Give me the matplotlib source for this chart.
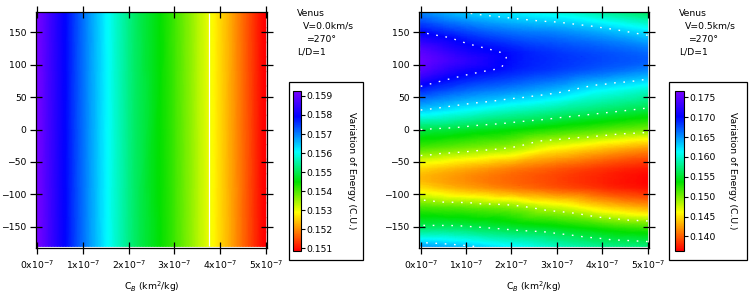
import numpy as np
import matplotlib
matplotlib.use('Agg')
import matplotlib.pyplot as plt
from matplotlib.colors import LinearSegmentedColormap, Normalize
from matplotlib.patches import Rectangle
from matplotlib.tri import Triangulation, UniformTriRefiner, CubicTriInterpolator

# ---------------- data ----------------
# C_B in units of 1e-7 km^2/kg
cb_values = [0, 1, 2, 3, 4, 5]
xtick_labels = ['0x10$^{-7}$', '1x10$^{-7}$', '2x10$^{-7}$',
                '3x10$^{-7}$', '4x10$^{-7}$', '5x10$^{-7}$']
yticks = [-150, -100, -50, 0, 50, 100, 150]

# left panel (V = 0.0 km/s): energy depends on C_B only
angles_left = [-180, 180]
energy_left = [0.1592, 0.1571, 0.1553, 0.1541, 0.1526, 0.1508]

# right panel (V = 0.5 km/s): one list per C_B column, rows follow angles_right
angles_right = [-180, -150, -120, -90, -75, -60, -30, 0, 30, 60, 90, 105, 120, 150, 180]
e_cb0 = [0.1645, 0.1565, 0.1516, 0.1450, 0.1435, 0.1448, 0.1512, 0.1560,
         0.1630, 0.1687, 0.1745, 0.1757, 0.1748, 0.1700, 0.1655]
e_cb1 = [0.1633, 0.1562, 0.1509, 0.1429, 0.1418, 0.1431, 0.1499, 0.1551,
         0.1613, 0.1665, 0.1708, 0.1725, 0.1714, 0.1678, 0.1630]
e_cb2 = [0.1615, 0.1551, 0.1499, 0.1412, 0.1403, 0.1414, 0.1485, 0.1540,
         0.1596, 0.1652, 0.1691, 0.1697, 0.1695, 0.1662, 0.1617]
e_cb3 = [0.1595, 0.1541, 0.1476, 0.1397, 0.1390, 0.1399, 0.1456, 0.1526,
         0.1582, 0.1636, 0.1679, 0.1685, 0.1682, 0.1654, 0.1605]
e_cb4 = [0.1580, 0.1527, 0.1448, 0.1383, 0.1377, 0.1385, 0.1437, 0.1513,
         0.1568, 0.1613, 0.1666, 0.1676, 0.1673, 0.1641, 0.1585]
e_cb5 = [0.1574, 0.1515, 0.1429, 0.1371, 0.1366, 0.1374, 0.1421, 0.1501,
         0.1555, 0.1597, 0.1652, 0.1668, 0.1663, 0.1622, 0.1565]

cbar_ticks_left = [0.151, 0.152, 0.153, 0.154, 0.155, 0.156, 0.157, 0.158, 0.159]
cbar_ticks_right = [0.140, 0.145, 0.150, 0.155, 0.160, 0.165, 0.170, 0.175]
range_left = (0.15087, 0.15926)
range_right = (0.1364, 0.1766)

contour_levels_right = [0.149, 0.156, 0.163, 0.170]
contour_levels_left = [0.153]

notes_left = ['Venus', 'V=0.0km/s', '=270°', 'L/D=1']
notes_right = ['Venus', 'V=0.5km/s', '=270°', 'L/D=1']

# ---------------- style ----------------
plt.rcParams['font.family'] = ['DejaVu Sans']
plt.rcParams['font.size'] = 6.7
FS = 6.7

cmap = LinearSegmentedColormap.from_list('rb', [
    (0.00, (1.0, 0.0, 0.0)),
    (0.12, (1.0, 0.5, 0.0)),
    (0.24, (1.0, 1.0, 0.0)),
    (0.43, (0.0, 0.88, 0.0)),
    (0.62, (0.0, 1.0, 1.0)),
    (0.84, (0.0, 0.0, 1.0)),
    (1.00, (0.48, 0.0, 1.0)),
])

W, H = 750, 299
fig = plt.figure(figsize=(W / 100, H / 100), dpi=100)


def fx(px):
    return px / W


def fy(py):
    return 1 - py / H


def smooth_field(X, Y, Z):
    # build triangulation on a roughly isotropic scale, refine with cubic interpolation
    ys = 36.0
    tri_s = Triangulation(X.ravel().astype(float), Y.ravel().astype(float) / ys)
    interp = CubicTriInterpolator(tri_s, Z.ravel(), kind='geom')
    refiner = UniformTriRefiner(tri_s)
    tri_r, z_r = refiner.refine_field(Z.ravel(), triinterpolator=interp, subdiv=4)
    tri_p = Triangulation(tri_r.x, tri_r.y * ys, tri_r.triangles)
    return tri_p, z_r


def make_panel(ax_rect, X, Y, Z, vrange, levels, dotted, xlim, cax_rect, box_rect,
               cticks, label_x, notes, note_x):
    ax = fig.add_axes(ax_rect)
    norm = Normalize(vmin=vrange[0], vmax=vrange[1])
    tri_p, z_r = smooth_field(X, Y, Z)
    ax.tripcolor(tri_p, z_r, cmap=cmap, norm=norm, shading='gouraud', rasterized=True)
    if dotted:
        ax.tricontour(tri_p, z_r, levels=levels, colors='white', linewidths=1.0,
                      linestyles=[(0, (1.2, 5.5))])
    else:
        ax.tricontour(tri_p, z_r, levels=levels, colors='white', linewidths=0.9)
    ax.set_xlim(*xlim)
    ax.set_ylim(-182.5, 181)
    ax.set_xticks(cb_values)
    ax.set_xticklabels(xtick_labels)
    ax.set_yticks(yticks)
    ax.tick_params(direction='inout', length=8.6, width=0.9, top=True, right=True,
                   labelsize=FS, colors='black')
    ax.tick_params(axis='x', pad=3.5)
    ax.tick_params(axis='y', pad=2.5)
    for s in ax.spines.values():
        s.set_linewidth(0.9)
    ax.set_xlabel('C$_B$ (km$^2$/kg)', fontsize=FS)
    ax.xaxis.set_label_coords(0.5, -0.135)

    # colorbar
    cax = fig.add_axes(cax_rect)
    sm = plt.cm.ScalarMappable(norm=norm, cmap=cmap)
    cb = fig.colorbar(sm, cax=cax, ticks=cticks)
    cb.ax.set_yticklabels(['%.3f' % t for t in cticks])
    cb.ax.tick_params(length=3, width=0.8, pad=1.2, labelsize=FS)
    cb.outline.set_linewidth(0.8)
    fig.text(label_x, fy(171), 'Variation of Energy (C.U.)', rotation=270,
             ha='center', va='center', fontsize=FS)
    fig.patches.append(Rectangle((box_rect[0], box_rect[1]), box_rect[2], box_rect[3],
                                 transform=fig.transFigure, fill=False,
                                 edgecolor='black', linewidth=0.9))
    offs = [0, 6, 9.3, 0]
    ys = [13.3, 26, 39.3, 51.7]
    for t, o, yy in zip(notes, offs, ys):
        fig.text(fx(note_x + o), fy(yy), t, ha='left', va='center', fontsize=FS)
    return ax


# left panel grid
XL, YL = np.meshgrid(cb_values, angles_left)
ZL = np.array([energy_left, energy_left])

# right panel grid
XR, YR = np.meshgrid(cb_values, angles_right)
ZR = np.column_stack([e_cb0, e_cb1, e_cb2, e_cb3, e_cb4, e_cb5])

ax_h = 236 / H
ax_b = fy(248)
make_panel([fx(36), ax_b, 231 / W, ax_h], XL, YL, ZL, range_left, contour_levels_left,
           False, (-0.028, 5.026),
           [fx(292.5), fy(250.7), 8.2 / W, 159.7 / H],
           [fx(289), fy(260), 74 / W, 178.3 / H],
           cbar_ticks_left, fx(351.5), notes_left, 296.7)

make_panel([fx(419), ax_b, 230 / W, ax_h], XR, YR, ZR, range_right, contour_levels_right,
           True, (-0.037, 5.03),
           [fx(675), fy(250.7), 8.5 / W, 159.7 / H],
           [fx(669), fy(260), 77.5 / W, 178.3 / H],
           cbar_ticks_right, fx(732), notes_right, 679)

fig.savefig('out.png', dpi=100)
